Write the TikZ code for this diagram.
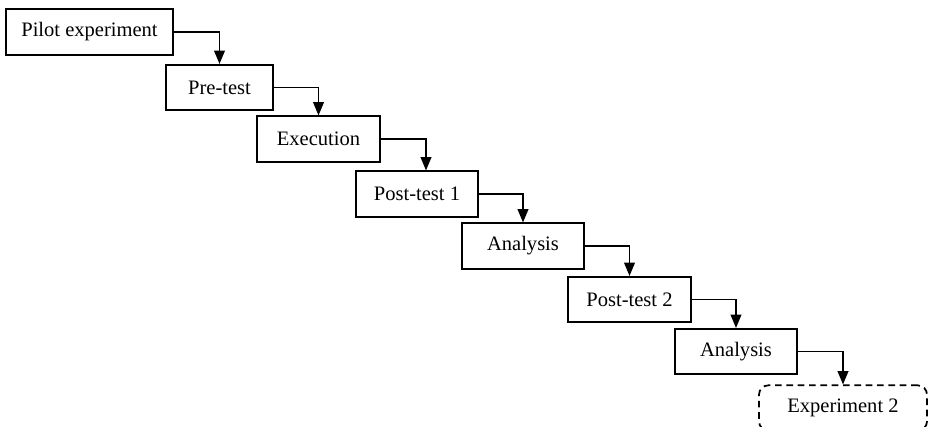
\documentclass[tikz,border=0pt]{standalone}
\usepackage{fontspec}
\setmainfont{Liberation Serif}
\usetikzlibrary{arrows.meta}
\begin{document}
\begin{tikzpicture}[x=0.75pt,y=-0.75pt,
  stepbox/.style={draw, line width=1.3pt, inner sep=0pt, minimum height=34pt, font=\fontsize{15.4}{18}\selectfont},
  conn/.style={line width=1.3pt, -{Triangle[length=10pt,width=8pt]}}]
\useasboundingbox (0,0) rectangle (929,427);
\node[stepbox, minimum width=125pt] (b1) at (89.5,32) {Pilot experiment};
\node[stepbox, minimum width=80pt] (b2) at (219.5,87.5) {Pre-test};
\node[stepbox, minimum width=92pt] (b3) at (318.5,139) {Execution};
\node[stepbox, minimum width=91.5pt] (b4) at (417,194) {Post-test 1};
\node[stepbox, minimum width=91.5pt] (b5) at (523,246) {Analysis};
\node[stepbox, minimum width=92pt] (b6) at (629.5,299.5) {Post-test 2};
\node[stepbox, minimum width=91.5pt] (b7) at (736,351.5) {Analysis};
\node[stepbox, minimum width=126pt, dashed, dash pattern=on 5pt off 3.5pt, rounded corners=7pt] (b8) at (843,408) {Experiment 2};
\draw[conn] (b1.east) -| (b2.north);
\draw[conn] (b2.east) -| (b3.north);
\draw[conn] (b3.east) -| ([xshift=6.75pt]b4.north);
\draw[conn] (b4.east) -| (b5.north);
\draw[conn] (b5.east) -| (b6.north);
\draw[conn] (b6.east) -| (b7.north);
\draw[conn] (b7.east) -| (b8.north);
\end{tikzpicture}
\end{document}
